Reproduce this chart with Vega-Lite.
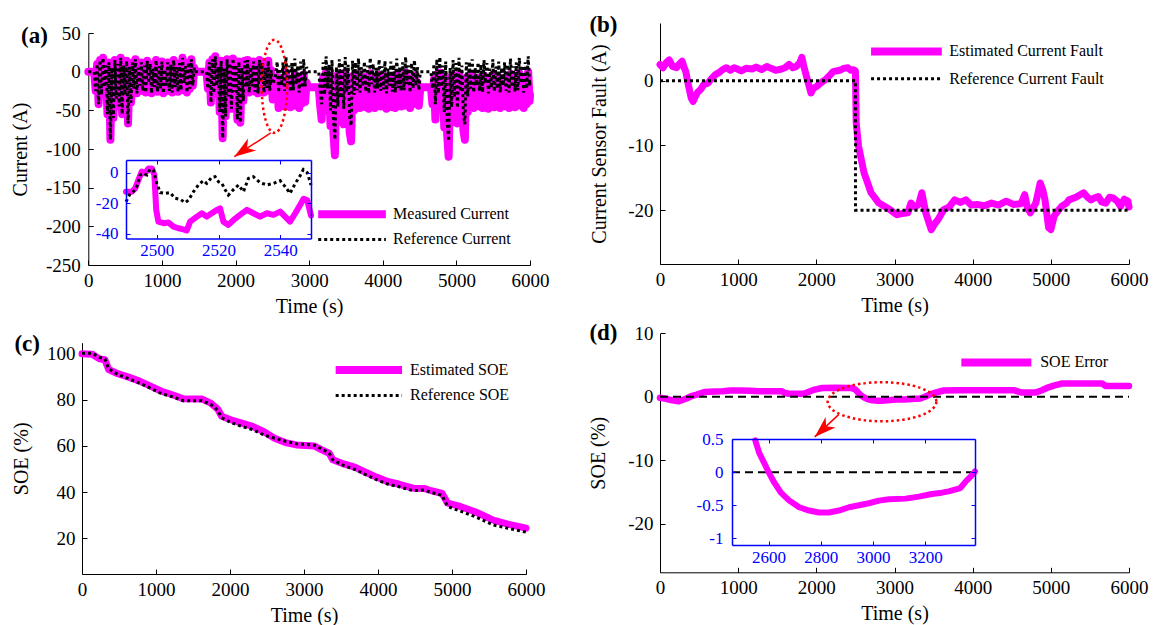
{
"$schema": "https://vega.github.io/schema/vega-lite/v6.json",
"width": 1153, "height": 625, "autosize": {"type": "none"}, "padding": 0, "background": "white",
"config": {
 "view": {"stroke": null},
 "locale": {"number": {"decimal": ".", "thousands": ",", "grouping": [3], "currency": ["$", ""], "minus": "-"}},
 "axis": {"grid": false, "labelFont": "Liberation Serif", "titleFont": "Liberation Serif", "labelFontSize": 19, "titleFontSize": 20, "titleFontWeight": "normal", "labelColor": "black", "titleColor": "black", "domainColor": "black", "tickColor": "black", "tickSize": -5, "domainWidth": 1, "tickWidth": 1, "labelOverlap": false, "labelFlush": false, "labelBound": false}
},
"datasets": {
 "cur": [
  {"t":0,"m":0,"r":0},{"t":80,"m":0,"r":0},
  {"t":100,"m":-25,"r":-25},{"t":120,"m":10,"r":10},{"t":140,"m":-42,"r":-42},{"t":160,"m":15,"r":15},{"t":180,"m":-30,"r":-30},{"t":200,"m":18,"r":18},{"t":220,"m":-20,"r":-20},{"t":240,"m":8,"r":8},{"t":260,"m":-55,"r":-55},{"t":280,"m":12,"r":12},{"t":300,"m":-88,"r":-88},{"t":320,"m":5,"r":5},{"t":340,"m":-60,"r":-60},{"t":360,"m":15,"r":15},{"t":380,"m":-35,"r":-35},{"t":400,"m":10,"r":10},{"t":420,"m":-45,"r":-45},{"t":440,"m":18,"r":18},{"t":460,"m":-55,"r":-55},{"t":480,"m":8,"r":8},{"t":500,"m":-30,"r":-30},{"t":520,"m":14,"r":14},{"t":540,"m":-67,"r":-67},{"t":560,"m":6,"r":6},{"t":580,"m":-40,"r":-40},{"t":600,"m":12,"r":12},{"t":620,"m":-22,"r":-22},{"t":640,"m":16,"r":16},{"t":660,"m":-28,"r":-28},{"t":680,"m":5,"r":5},{"t":700,"m":-18,"r":-18},{"t":720,"m":12,"r":12},{"t":740,"m":-25,"r":-25},{"t":760,"m":8,"r":8},{"t":780,"m":-27,"r":-27},{"t":800,"m":14,"r":14},{"t":820,"m":-15,"r":-15},{"t":840,"m":10,"r":10},{"t":860,"m":-28,"r":-28},{"t":880,"m":4,"r":4},{"t":900,"m":-20,"r":-20},{"t":920,"m":15,"r":15},{"t":940,"m":-26,"r":-26},{"t":960,"m":7,"r":7},{"t":980,"m":-22,"r":-22},{"t":1000,"m":13,"r":13},{"t":1020,"m":-28,"r":-28},{"t":1040,"m":3,"r":3},{"t":1060,"m":-18,"r":-18},{"t":1080,"m":12,"r":12},{"t":1100,"m":-25,"r":-25},{"t":1120,"m":9,"r":9},{"t":1140,"m":-27,"r":-27},{"t":1160,"m":15,"r":15},{"t":1180,"m":-20,"r":-20},{"t":1200,"m":6,"r":6},{"t":1220,"m":-26,"r":-26},{"t":1240,"m":11,"r":11},{"t":1260,"m":-24,"r":-24},{"t":1280,"m":18,"r":18},{"t":1300,"m":-15,"r":-15},{"t":1320,"m":7,"r":7},{"t":1340,"m":-27,"r":-27},{"t":1360,"m":12,"r":12},{"t":1380,"m":-22,"r":-22},{"t":1400,"m":16,"r":16},{"t":1420,"m":-18,"r":-18},{"t":1440,"m":5,"r":5},{"t":1460,"m":0,"r":0},
  {"t":1605,"m":0,"r":0},{"t":1625,"m":-22,"r":-22},{"t":1645,"m":12,"r":12},{"t":1665,"m":-40,"r":-40},{"t":1685,"m":16,"r":16},{"t":1705,"m":-28,"r":-28},{"t":1725,"m":20,"r":20},{"t":1745,"m":-18,"r":-18},{"t":1765,"m":6,"r":6},{"t":1785,"m":-52,"r":-52},{"t":1805,"m":14,"r":14},{"t":1825,"m":-86,"r":-86},{"t":1845,"m":4,"r":4},{"t":1865,"m":-58,"r":-58},{"t":1885,"m":16,"r":16},{"t":1905,"m":-32,"r":-32},{"t":1925,"m":11,"r":11},{"t":1945,"m":-48,"r":-48},{"t":1965,"m":17,"r":17},{"t":1985,"m":-26,"r":-26},{"t":2005,"m":9,"r":9},{"t":2025,"m":-62,"r":-62},{"t":2045,"m":13,"r":13},{"t":2065,"m":-66,"r":-66},{"t":2085,"m":5,"r":5},{"t":2105,"m":-38,"r":-38},{"t":2125,"m":14,"r":14},{"t":2145,"m":-20,"r":-20},{"t":2165,"m":15,"r":15},{"t":2185,"m":-27,"r":-27},{"t":2205,"m":6,"r":6},{"t":2225,"m":-19,"r":-19},{"t":2245,"m":13,"r":13},{"t":2265,"m":-26,"r":-26},{"t":2285,"m":9,"r":9},{"t":2305,"m":-28,"r":-28},{"t":2325,"m":15,"r":15},{"t":2345,"m":-14,"r":-14},{"t":2365,"m":11,"r":11},{"t":2385,"m":-27,"r":-27},{"t":2405,"m":5,"r":5},{"t":2425,"m":-21,"r":-21},{"t":2445,"m":14,"r":14},{"t":2465,"m":-25,"r":-25},{"t":2485,"m":2,"r":2},
  {"t":2505,"m":-36,"r":-16},{"t":2525,"m":-31,"r":-11},{"t":2545,"m":-25,"r":-5},{"t":2565,"m":-7,"r":13},{"t":2585,"m":-47,"r":-27},{"t":2605,"m":-16,"r":4},{"t":2625,"m":-38,"r":-18},{"t":2645,"m":-8,"r":12},{"t":2665,"m":-45,"r":-25},{"t":2685,"m":-1,"r":19},{"t":2705,"m":-35,"r":-15},{"t":2725,"m":-12,"r":8},{"t":2745,"m":-46,"r":-26},{"t":2765,"m":-9,"r":11},{"t":2785,"m":-44,"r":-24},{"t":2805,"m":-3,"r":17},{"t":2825,"m":-36,"r":-16},{"t":2845,"m":-12,"r":8},{"t":2865,"m":-47,"r":-27},{"t":2885,"m":-7,"r":13},{"t":2905,"m":-41,"r":-21},{"t":2925,"m":-4,"r":16},{"t":2945,"m":-39,"r":-19},{"t":2965,"m":-14,"r":6},{"t":2985,"m":-20,"r":0},
  {"t":3130,"m":-20,"r":0},{"t":3150,"m":-44,"r":-24},{"t":3170,"m":-62,"r":-42},{"t":3190,"m":-8,"r":12},{"t":3210,"m":-50,"r":-30},{"t":3230,"m":0,"r":20},{"t":3250,"m":-42,"r":-22},{"t":3270,"m":-11,"r":9},{"t":3290,"m":-70,"r":-50},{"t":3310,"m":-5,"r":15},{"t":3330,"m":-80,"r":-60},{"t":3350,"m":-108,"r":-88},{"t":3370,"m":-14,"r":6},{"t":3390,"m":-65,"r":-45},{"t":3410,"m":-4,"r":16},{"t":3430,"m":-54,"r":-34},{"t":3450,"m":-8,"r":12},{"t":3470,"m":-68,"r":-48},{"t":3490,"m":-1,"r":19},{"t":3510,"m":-46,"r":-26},{"t":3530,"m":-11,"r":9},{"t":3550,"m":-78,"r":-58},{"t":3570,"m":-90,"r":-70},{"t":3590,"m":-6,"r":14},{"t":3610,"m":-50,"r":-30},{"t":3630,"m":-8,"r":12},{"t":3650,"m":-44,"r":-24},{"t":3670,"m":-3,"r":17},{"t":3690,"m":-47,"r":-27},{"t":3710,"m":-14,"r":6},{"t":3730,"m":-39,"r":-19},{"t":3750,"m":-7,"r":13},{"t":3770,"m":-46,"r":-26},{"t":3790,"m":-12,"r":8},{"t":3810,"m":-48,"r":-28},{"t":3830,"m":-2,"r":18},{"t":3850,"m":-36,"r":-16},{"t":3870,"m":-10,"r":10},{"t":3890,"m":-47,"r":-27},{"t":3910,"m":-15,"r":5},{"t":3930,"m":-42,"r":-22},{"t":3950,"m":-4,"r":16},{"t":3970,"m":-45,"r":-25},{"t":3990,"m":-13,"r":7},{"t":4010,"m":-43,"r":-23},{"t":4030,"m":-6,"r":14},{"t":4050,"m":-48,"r":-28},{"t":4070,"m":-16,"r":4},{"t":4090,"m":-38,"r":-18},{"t":4110,"m":-7,"r":13},{"t":4130,"m":-46,"r":-26},{"t":4150,"m":-11,"r":9},{"t":4170,"m":-47,"r":-27},{"t":4190,"m":-3,"r":17},{"t":4210,"m":-41,"r":-21},{"t":4230,"m":-14,"r":6},{"t":4250,"m":-45,"r":-25},{"t":4270,"m":-8,"r":12},{"t":4290,"m":-44,"r":-24},{"t":4310,"m":-1,"r":19},{"t":4330,"m":-36,"r":-16},{"t":4350,"m":-12,"r":8},{"t":4370,"m":-47,"r":-27},{"t":4390,"m":-9,"r":11},{"t":4410,"m":-42,"r":-22},{"t":4430,"m":-5,"r":15},{"t":4450,"m":-38,"r":-18},{"t":4470,"m":-14,"r":6},{"t":4490,"m":-44,"r":-24},{"t":4510,"m":-20,"r":0},
  {"t":4655,"m":-20,"r":0},{"t":4675,"m":-42,"r":-22},{"t":4695,"m":-10,"r":10},{"t":4715,"m":-62,"r":-42},{"t":4735,"m":-4,"r":16},{"t":4755,"m":-48,"r":-28},{"t":4775,"m":-1,"r":19},{"t":4795,"m":-40,"r":-20},{"t":4815,"m":-12,"r":8},{"t":4835,"m":-72,"r":-52},{"t":4855,"m":-7,"r":13},{"t":4875,"m":-82,"r":-62},{"t":4895,"m":-110,"r":-90},{"t":4915,"m":-15,"r":5},{"t":4935,"m":-66,"r":-46},{"t":4955,"m":-5,"r":15},{"t":4975,"m":-53,"r":-33},{"t":4995,"m":-9,"r":11},{"t":5015,"m":-67,"r":-47},{"t":5035,"m":-2,"r":18},{"t":5055,"m":-46,"r":-26},{"t":5075,"m":-12,"r":8},{"t":5095,"m":-75,"r":-55},{"t":5115,"m":-88,"r":-68},{"t":5135,"m":-8,"r":12},{"t":5155,"m":-52,"r":-32},{"t":5175,"m":-7,"r":13},{"t":5195,"m":-42,"r":-22},{"t":5215,"m":-4,"r":16},{"t":5235,"m":-47,"r":-27},{"t":5255,"m":-15,"r":5},{"t":5275,"m":-38,"r":-18},{"t":5295,"m":-8,"r":12},{"t":5315,"m":-45,"r":-25},{"t":5335,"m":-11,"r":9},{"t":5355,"m":-47,"r":-27},{"t":5375,"m":-5,"r":15},{"t":5395,"m":-35,"r":-15},{"t":5415,"m":-9,"r":11},{"t":5435,"m":-48,"r":-28},{"t":5455,"m":-16,"r":4},{"t":5475,"m":-41,"r":-21},{"t":5495,"m":-4,"r":16},{"t":5515,"m":-46,"r":-26},{"t":5535,"m":-13,"r":7},{"t":5555,"m":-42,"r":-22},{"t":5575,"m":-7,"r":13},{"t":5595,"m":-47,"r":-27},{"t":5615,"m":-15,"r":5},{"t":5635,"m":-38,"r":-18},{"t":5655,"m":-8,"r":12},{"t":5675,"m":-45,"r":-25},{"t":5695,"m":-11,"r":9},{"t":5715,"m":-47,"r":-27},{"t":5735,"m":-3,"r":17},{"t":5755,"m":-40,"r":-20},{"t":5775,"m":-13,"r":7},{"t":5795,"m":-46,"r":-26},{"t":5815,"m":-8,"r":12},{"t":5835,"m":-44,"r":-24},{"t":5855,"m":-2,"r":18},{"t":5875,"m":-35,"r":-15},{"t":5895,"m":-12,"r":8},{"t":5915,"m":-47,"r":-27},{"t":5935,"m":-8,"r":12},{"t":5955,"m":-42,"r":-22},{"t":5975,"m":0,"r":20},{"t":5995,"m":-38,"r":-18},{"t":6000,"m":-30,"r":-10}
 ],
 "curz_m": [
  {"t":2490,"v":-12.4},{"t":2491.9,"v":-12.4},{"t":2493,"v":-10.2},{"t":2494,"v":-4.8},{"t":2495.1,"v":0.7},{"t":2496.2,"v":-0.4},{"t":2497.3,"v":2.8},{"t":2498.4,"v":2.8},{"t":2499.2,"v":-1.5},{"t":2499.8,"v":-24.3},{"t":2500.5,"v":-32},{"t":2502.2,"v":-33},{"t":2503.8,"v":-32.6},{"t":2505.4,"v":-35.2},{"t":2507,"v":-36.3},{"t":2508.6,"v":-37},{"t":2509.7,"v":-37.8},{"t":2510.8,"v":-32},{"t":2513,"v":-28.7},{"t":2514.6,"v":-26.5},{"t":2516.2,"v":-28.7},{"t":2517.8,"v":-26.5},{"t":2519.5,"v":-24.3},{"t":2520.5,"v":-23.3},{"t":2521.6,"v":-32},{"t":2523.2,"v":-34.1},{"t":2524.9,"v":-30.9},{"t":2527,"v":-27.6},{"t":2529.2,"v":-24.3},{"t":2531.3,"v":-26.5},{"t":2533.5,"v":-28.7},{"t":2535.7,"v":-26.5},{"t":2537.8,"v":-27.6},{"t":2540,"v":-25.4},{"t":2541.6,"v":-28.7},{"t":2543.2,"v":-32},{"t":2544.9,"v":-26.5},{"t":2546.5,"v":-21},{"t":2547.6,"v":-17},{"t":2548.8,"v":-18},{"t":2550,"v":-28}
 ],
 "curz_r": [
  {"t":2490,"v":-19},{"t":2491.4,"v":-13.5},{"t":2492.4,"v":-12.4},{"t":2493.5,"v":-9.1},{"t":2494.6,"v":-1.5},{"t":2495.7,"v":-0.4},{"t":2496.8,"v":-1.5},{"t":2497.8,"v":2.2},{"t":2498.9,"v":1.7},{"t":2500,"v":-7},{"t":2501.1,"v":-13},{"t":2502.7,"v":-13.5},{"t":2504.3,"v":-13},{"t":2505.9,"v":-16.7},{"t":2507.6,"v":-17.4},{"t":2509.2,"v":-19.6},{"t":2510.3,"v":-17.8},{"t":2511.9,"v":-12.4},{"t":2513.5,"v":-8},{"t":2515.1,"v":-5.2},{"t":2516.2,"v":-7},{"t":2517.8,"v":-3},{"t":2518.9,"v":-2.6},{"t":2520,"v":-5.9},{"t":2521.1,"v":-7},{"t":2522.2,"v":-11.3},{"t":2523.2,"v":-14.6},{"t":2524.9,"v":-10.9},{"t":2526.5,"v":-8},{"t":2528.1,"v":-12.4},{"t":2529.7,"v":-3.7},{"t":2531.3,"v":-2.6},{"t":2533.5,"v":-6.5},{"t":2535.7,"v":-8},{"t":2537.8,"v":-7},{"t":2540,"v":-5.2},{"t":2541.6,"v":-9.1},{"t":2543.2,"v":-13.5},{"t":2544.9,"v":-7},{"t":2546.3,"v":-2.6},{"t":2547.5,"v":2},{"t":2548.8,"v":0},{"t":2550,"v":-8}
 ],
 "fault": [
  {"t":0,"e":2.5},{"t":40,"e":2.0},{"t":80,"e":2.8},{"t":118,"e":3.2},{"t":160,"e":2.2},{"t":212,"e":2.0},{"t":250,"e":2.6},{"t":283,"e":3.0},{"t":310,"e":2.0},{"t":330,"e":1.4},{"t":365,"e":-0.8},{"t":400,"e":-2.7},{"t":424,"e":-3.2},{"t":450,"e":-2.5},{"t":480,"e":-1.8},{"t":518,"e":-1.4},{"t":560,"e":-0.6},{"t":613,"e":-0.4},{"t":650,"e":0.2},{"t":707,"e":0.9},{"t":760,"e":1.3},{"t":801,"e":1.7},{"t":850,"e":2.0},{"t":900,"e":1.6},{"t":950,"e":2.0},{"t":990,"e":1.8},{"t":1040,"e":1.5},{"t":1100,"e":1.9},{"t":1178,"e":1.8},{"t":1230,"e":2.1},{"t":1300,"e":1.7},{"t":1367,"e":2.2},{"t":1420,"e":1.9},{"t":1480,"e":1.6},{"t":1555,"e":1.8},{"t":1600,"e":2.0},{"t":1650,"e":2.5},{"t":1700,"e":2.0},{"t":1744,"e":2.2},{"t":1790,"e":2.8},{"t":1815,"e":3.6},{"t":1840,"e":2.2},{"t":1862,"e":1.2},{"t":1900,"e":-0.5},{"t":1932,"e":-1.9},{"t":1960,"e":-1.2},{"t":2003,"e":-0.9},{"t":2060,"e":-0.3},{"t":2121,"e":0.2},{"t":2170,"e":0.8},{"t":2215,"e":1.4},{"t":2300,"e":1.6},{"t":2350,"e":1.9},{"t":2404,"e":2.0},{"t":2440,"e":1.6},{"t":2474,"e":1.7},{"t":2500,"e":1.5},{"t":2510,"e":-6.5},{"t":2540,"e":-10.1},{"t":2610,"e":-14.2},{"t":2700,"e":-17.3},{"t":2800,"e":-18.9},{"t":2940,"e":-19.9},{"t":3030,"e":-20.7},{"t":3100,"e":-20.5},{"t":3170,"e":-20.4},{"t":3210,"e":-18.9},{"t":3260,"e":-19.5},{"t":3310,"e":-19.1},{"t":3350,"e":-17.3},{"t":3400,"e":-20.4},{"t":3470,"e":-23.0},{"t":3520,"e":-22.0},{"t":3560,"e":-21.4},{"t":3630,"e":-19.9},{"t":3700,"e":-19.5},{"t":3770,"e":-18.4},{"t":3840,"e":-18.8},{"t":3912,"e":-18.4},{"t":3980,"e":-19.2},{"t":4053,"e":-19.1},{"t":4150,"e":-19.3},{"t":4242,"e":-18.9},{"t":4330,"e":-19.2},{"t":4430,"e":-18.6},{"t":4520,"e":-19.1},{"t":4619,"e":-19.0},{"t":4666,"e":-17.6},{"t":4700,"e":-19.6},{"t":4737,"e":-20.4},{"t":4808,"e":-18.9},{"t":4864,"e":-15.8},{"t":4900,"e":-17.0},{"t":4925,"e":-18.4},{"t":4972,"e":-22.7},{"t":5000,"e":-23.0},{"t":5043,"e":-20.9},{"t":5090,"e":-20.1},{"t":5137,"e":-19.4},{"t":5200,"e":-18.9},{"t":5232,"e":-18.4},{"t":5320,"e":-18.0},{"t":5420,"e":-17.3},{"t":5470,"e":-18.0},{"t":5514,"e":-18.4},{"t":5560,"e":-18.1},{"t":5609,"e":-17.9},{"t":5650,"e":-18.7},{"t":5703,"e":-18.9},{"t":5750,"e":-18.0},{"t":5797,"e":-18.1},{"t":5850,"e":-18.6},{"t":5892,"e":-19.4},{"t":5940,"e":-18.3},{"t":5986,"e":-18.6},{"t":6000,"e":-19.5}
 ],
 "fault_ref": [{"t":0,"f":0},{"t":2500,"f":0},{"t":2501,"f":-20},{"t":6000,"f":-20}],
 "soe": [
  {"t":0,"est":99.8,"ref":100},{"t":138,"est":99.6,"ref":100},{"t":236,"est":97.6,"ref":98.3},{"t":310,"est":97.2,"ref":97.6},{"t":360,"est":93.0,"ref":93.3},{"t":483,"est":91.2,"ref":90.9},{"t":631,"est":89.7,"ref":89.0},{"t":778,"est":88.0,"ref":87.1},{"t":926,"est":85.8,"ref":84.9},{"t":1074,"est":83.6,"ref":82.6},{"t":1222,"est":82.1,"ref":81.2},{"t":1369,"est":80.4,"ref":79.5},{"t":1616,"est":80.3,"ref":79.5},{"t":1739,"est":78.5,"ref":78.0},{"t":1837,"est":75.8,"ref":75.3},{"t":1887,"est":72.8,"ref":72.2},{"t":2010,"est":71.3,"ref":70.1},{"t":2158,"est":69.8,"ref":68.4},{"t":2305,"est":68.4,"ref":67.0},{"t":2453,"est":66.2,"ref":64.8},{"t":2601,"est":63.3,"ref":63.3},{"t":2749,"est":61.4,"ref":62.0},{"t":2897,"est":60.4,"ref":60.9},{"t":3143,"est":59.9,"ref":60.3},{"t":3241,"est":58.3,"ref":58.6},{"t":3340,"est":56.8,"ref":56.9},{"t":3389,"est":54.0,"ref":54.0},{"t":3537,"est":52.2,"ref":51.5},{"t":3685,"est":50.8,"ref":49.8},{"t":3832,"est":48.6,"ref":47.6},{"t":3980,"est":46.5,"ref":45.4},{"t":4128,"est":44.6,"ref":43.5},{"t":4276,"est":43.5,"ref":42.4},{"t":4473,"est":41.7,"ref":40.6},{"t":4621,"est":41.6,"ref":40.9},{"t":4719,"est":40.6,"ref":39.9},{"t":4867,"est":39.4,"ref":38.6},{"t":4941,"est":35.2,"ref":33.8},{"t":5113,"est":33.8,"ref":31.8},{"t":5310,"est":31.5,"ref":29.4},{"t":5409,"est":30.1,"ref":28.0},{"t":5557,"est":27.9,"ref":25.8},{"t":5754,"est":26.2,"ref":24.4},{"t":6000,"est":24.4,"ref":22.7}
 ],
 "err": [
  {"t":0,"e":-0.15},{"t":80,"e":-0.3},{"t":141,"e":-0.5},{"t":236,"e":-0.7},{"t":330,"e":-0.3},{"t":400,"e":0.1},{"t":471,"e":0.35},{"t":566,"e":0.75},{"t":700,"e":0.85},{"t":801,"e":0.9},{"t":900,"e":1.0},{"t":1037,"e":1.0},{"t":1150,"e":0.95},{"t":1272,"e":0.9},{"t":1400,"e":0.9},{"t":1555,"e":0.9},{"t":1600,"e":0.6},{"t":1650,"e":0.5},{"t":1838,"e":0.5},{"t":1979,"e":1.15},{"t":2074,"e":1.4},{"t":2250,"e":1.45},{"t":2451,"e":1.4},{"t":2498,"e":1.15},{"t":2549,"e":0.48},{"t":2564,"e":0.29},{"t":2583,"e":0.14},{"t":2600,"e":0},{"t":2622,"e":-0.16},{"t":2647,"e":-0.31},{"t":2679,"e":-0.43},{"t":2717,"e":-0.53},{"t":2755,"e":-0.58},{"t":2793,"e":-0.61},{"t":2831,"e":-0.61},{"t":2869,"e":-0.58},{"t":2908,"e":-0.53},{"t":2946,"e":-0.5},{"t":2984,"e":-0.47},{"t":3022,"e":-0.43},{"t":3060,"e":-0.41},{"t":3124,"e":-0.4},{"t":3175,"e":-0.37},{"t":3225,"e":-0.33},{"t":3263,"e":-0.31},{"t":3289,"e":-0.29},{"t":3334,"e":-0.24},{"t":3355,"e":-0.14},{"t":3375,"e":-0.06},{"t":3390,"e":0.01},{"t":3450,"e":0.35},{"t":3535,"e":0.7},{"t":3629,"e":1.0},{"t":3800,"e":1.05},{"t":4100,"e":1.05},{"t":4524,"e":1.05},{"t":4619,"e":0.7},{"t":4808,"e":0.7},{"t":4880,"e":1.0},{"t":4949,"e":1.4},{"t":5050,"e":1.8},{"t":5137,"e":2.1},{"t":5655,"e":2.1},{"t":5703,"e":1.7},{"t":6000,"e":1.7}
 ]
},
"resolve": {"scale": {"x": "independent", "y": "independent"}, "axis": {"x": "independent", "y": "independent"}},
"layer": [
 {"data": {"name": "cur"}, "mark": {"type": "line", "color": "#ff00ff", "strokeWidth": 8, "strokeJoin": "round", "strokeCap": "round"},
  "encoding": {
   "x": {"field": "t", "type": "quantitative", "scale": {"domain": [0, 6000], "range": [88.3, 530], "nice": false, "zero": false}, "axis": {"orient": "bottom", "offset": -360, "values": [0,1000,2000,3000,4000,5000,6000], "format": "~r", "title": "Time (s)", "labelPadding": 11, "titlePadding": 6}},
   "y": {"field": "m", "type": "quantitative", "scale": {"domain": [-250, 50], "range": [265, 33], "nice": false, "zero": false}, "axis": {"orient": "left", "offset": -88.3, "values": [-250,-200,-150,-100,-50,0,50], "format": "~r", "title": "Current (A)", "labelPadding": 13, "titlePadding": 15}}}},
 {"data": {"name": "cur"}, "mark": {"type": "line", "color": "black", "strokeWidth": 3, "strokeDash": [3, 3]},
  "encoding": {
   "x": {"field": "t", "type": "quantitative", "scale": {"domain": [0, 6000], "range": [88.3, 530], "nice": false, "zero": false}, "axis": null},
   "y": {"field": "r", "type": "quantitative", "scale": {"domain": [-250, 50], "range": [265, 33], "nice": false, "zero": false}, "axis": null}}},
 {"data": {"values": [{}]}, "mark": {"type": "point", "shape": "M0.274,0 C0.274,0.5523 0.1513,1 0,1 C-0.1513,1 -0.274,0.5523 -0.274,0 C-0.274,-0.5523 -0.1513,-1 0,-1 C0.1513,-1 0.274,-0.5523 0.274,0 Z", "size": 8649, "filled": false, "stroke": "#ff0000", "strokeWidth": 2.5, "strokeDash": [2.5, 3], "opacity": 1},
  "encoding": {
   "x": {"datum": 2528, "type": "quantitative", "scale": {"domain": [0, 6000], "range": [88.3, 530], "nice": false, "zero": false}, "axis": null},
   "y": {"datum": -19, "type": "quantitative", "scale": {"domain": [-250, 50], "range": [265, 33], "nice": false, "zero": false}, "axis": null}}},
 {"data": {"values": [{}]}, "mark": {"type": "rule", "color": "#ff0000", "strokeWidth": 1.5},
  "encoding": {
   "x": {"datum": 2479, "type": "quantitative", "scale": {"domain": [0, 6000], "range": [88.3, 530], "nice": false, "zero": false}, "axis": null},
   "y": {"datum": -79, "type": "quantitative", "scale": {"domain": [-250, 50], "range": [265, 33], "nice": false, "zero": false}, "axis": null},
   "x2": {"datum": 1983}, "y2": {"datum": -110}}},
 {"data": {"values": [{}]}, "mark": {"type": "point", "shape": "M0,0 L0.6,1.8 L0,1.3 L-0.6,1.8 Z", "size": 576, "filled": true, "color": "#ff0000", "angle": 235.5, "opacity": 1},
  "encoding": {
   "x": {"datum": 1983, "type": "quantitative", "scale": {"domain": [0, 6000], "range": [88.3, 530], "nice": false, "zero": false}, "axis": null},
   "y": {"datum": -110, "type": "quantitative", "scale": {"domain": [-250, 50], "range": [265, 33], "nice": false, "zero": false}, "axis": null}}},
 {"data": {"values": [{}]}, "mark": {"type": "rect", "color": "white"},
  "encoding": {
   "x": {"datum": 2490, "type": "quantitative", "scale": {"domain": [2490, 2550], "range": [126, 311], "nice": false, "zero": false}, "axis": {"orient": "top", "offset": -160, "values": [2500,2520,2540], "labels": false, "title": null, "domainColor": "#0000ff", "tickColor": "#0000ff", "tickSize": -4, "domainWidth": 1.5, "zindex": 1}},
   "x2": {"datum": 2550},
   "y": {"datum": -43, "type": "quantitative", "scale": {"domain": [-43, 8.3], "range": [238.5, 160], "nice": false, "zero": false}, "axis": {"orient": "right", "offset": -842, "values": [-40,-20,0], "labels": false, "title": null, "domainColor": "#0000ff", "tickColor": "#0000ff", "tickSize": -4, "domainWidth": 1.5, "zindex": 1}},
   "y2": {"datum": 8.3}}},
 {"data": {"name": "curz_m"}, "mark": {"type": "line", "color": "#ff00ff", "strokeWidth": 6, "strokeJoin": "round", "strokeCap": "round"},
  "encoding": {
   "x": {"field": "t", "type": "quantitative", "scale": {"domain": [2490, 2550], "range": [126, 311], "nice": false, "zero": false}, "axis": {"orient": "bottom", "offset": -386.5, "values": [2500,2520,2540], "format": "~r", "title": null, "labelColor": "#0000ff", "domainColor": "#0000ff", "tickColor": "#0000ff", "labelFontSize": 17, "tickSize": -4, "labelPadding": 8, "domainWidth": 1.5, "zindex": 1}},
   "y": {"field": "v", "type": "quantitative", "scale": {"domain": [-43, 8.3], "range": [238.5, 160], "nice": false, "zero": false}, "axis": {"orient": "left", "offset": -126, "values": [-40,-20,0], "format": "~r", "title": null, "labelColor": "#0000ff", "domainColor": "#0000ff", "tickColor": "#0000ff", "labelFontSize": 17, "tickSize": -4, "labelPadding": 12, "domainWidth": 1.5, "zindex": 1}}}},
 {"data": {"name": "curz_r"}, "mark": {"type": "line", "color": "black", "strokeWidth": 3, "strokeDash": [3, 3]},
  "encoding": {
   "x": {"field": "t", "type": "quantitative", "scale": {"domain": [2490, 2550], "range": [126, 311], "nice": false, "zero": false}, "axis": null},
   "y": {"field": "v", "type": "quantitative", "scale": {"domain": [-43, 8.3], "range": [238.5, 160], "nice": false, "zero": false}, "axis": null}}},
 {"data": {"values": [{}]}, "mark": {"type": "rule", "color": "#ff00ff", "strokeWidth": 8},
  "encoding": {
   "x": {"datum": 3123, "type": "quantitative", "scale": {"domain": [0, 6000], "range": [88.3, 530], "nice": false, "zero": false}, "axis": null},
   "x2": {"datum": 4042},
   "y": {"datum": -184.5, "type": "quantitative", "scale": {"domain": [-250, 50], "range": [265, 33], "nice": false, "zero": false}, "axis": null}}},
 {"data": {"values": [{}]}, "mark": {"type": "rule", "color": "black", "strokeWidth": 3, "strokeDash": [3, 3]},
  "encoding": {
   "x": {"datum": 3123, "type": "quantitative", "scale": {"domain": [0, 6000], "range": [88.3, 530], "nice": false, "zero": false}, "axis": null},
   "x2": {"datum": 4042},
   "y": {"datum": -217, "type": "quantitative", "scale": {"domain": [-250, 50], "range": [265, 33], "nice": false, "zero": false}, "axis": null}}},
 {"data": {"values": [{}]}, "mark": {"type": "text", "text": "Measured Current", "align": "left", "baseline": "middle", "font": "Liberation Serif", "fontSize": 16, "color": "black"},
  "encoding": {
   "x": {"datum": 4140, "type": "quantitative", "scale": {"domain": [0, 6000], "range": [88.3, 530], "nice": false, "zero": false}, "axis": null},
   "y": {"datum": -184.5, "type": "quantitative", "scale": {"domain": [-250, 50], "range": [265, 33], "nice": false, "zero": false}, "axis": null}}},
 {"data": {"values": [{}]}, "mark": {"type": "text", "text": "Reference Current", "align": "left", "baseline": "middle", "font": "Liberation Serif", "fontSize": 16, "color": "black"},
  "encoding": {
   "x": {"datum": 4140, "type": "quantitative", "scale": {"domain": [0, 6000], "range": [88.3, 530], "nice": false, "zero": false}, "axis": null},
   "y": {"datum": -217, "type": "quantitative", "scale": {"domain": [-250, 50], "range": [265, 33], "nice": false, "zero": false}, "axis": null}}},
 {"data": {"values": [{}]}, "mark": {"type": "text", "text": "(a)", "align": "center", "baseline": "middle", "font": "Liberation Serif", "fontSize": 23, "fontWeight": "bold", "color": "black"},
  "encoding": {
   "x": {"datum": -731, "type": "quantitative", "scale": {"domain": [0, 6000], "range": [88.3, 530], "nice": false, "zero": false}, "axis": null},
   "y": {"datum": 46, "type": "quantitative", "scale": {"domain": [-250, 50], "range": [265, 33], "nice": false, "zero": false}, "axis": null}}},

 {"data": {"name": "fault"}, "mark": {"type": "line", "color": "#ff00ff", "strokeWidth": 7, "strokeJoin": "round", "strokeCap": "round"},
  "encoding": {
   "x": {"field": "t", "type": "quantitative", "scale": {"domain": [0, 6000], "range": [660, 1129], "nice": false, "zero": false}, "axis": {"orient": "bottom", "offset": -361, "values": [0,1000,2000,3000,4000,5000,6000], "format": "~r", "title": "Time (s)", "labelPadding": 11, "titlePadding": 6}},
   "y": {"field": "e", "type": "quantitative", "scale": {"domain": [-28.3, 8.9], "range": [264, 23], "nice": false, "zero": false}, "axis": {"orient": "left", "offset": -660, "values": [-20,-10,0], "format": "~r", "title": "Current Sensor Fault (A)", "labelPadding": 12, "titlePadding": 18}}}},
 {"data": {"name": "fault_ref"}, "mark": {"type": "line", "color": "black", "strokeWidth": 3, "strokeDash": [3, 3]},
  "encoding": {
   "x": {"field": "t", "type": "quantitative", "scale": {"domain": [0, 6000], "range": [660, 1129], "nice": false, "zero": false}, "axis": null},
   "y": {"field": "f", "type": "quantitative", "scale": {"domain": [-28.3, 8.9], "range": [264, 23], "nice": false, "zero": false}, "axis": null}}},
 {"data": {"values": [{}]}, "mark": {"type": "rule", "color": "#ff00ff", "strokeWidth": 8},
  "encoding": {
   "x": {"datum": 2700, "type": "quantitative", "scale": {"domain": [0, 6000], "range": [660, 1129], "nice": false, "zero": false}, "axis": null},
   "x2": {"datum": 3605},
   "y": {"datum": 4.52, "type": "quantitative", "scale": {"domain": [-28.3, 8.9], "range": [264, 23], "nice": false, "zero": false}, "axis": null}}},
 {"data": {"values": [{}]}, "mark": {"type": "rule", "color": "black", "strokeWidth": 3, "strokeDash": [3, 3]},
  "encoding": {
   "x": {"datum": 2700, "type": "quantitative", "scale": {"domain": [0, 6000], "range": [660, 1129], "nice": false, "zero": false}, "axis": null},
   "x2": {"datum": 3605},
   "y": {"datum": 0.31, "type": "quantitative", "scale": {"domain": [-28.3, 8.9], "range": [264, 23], "nice": false, "zero": false}, "axis": null}}},
 {"data": {"values": [{}]}, "mark": {"type": "text", "text": "Estimated Current Fault", "align": "left", "baseline": "middle", "font": "Liberation Serif", "fontSize": 16, "color": "black"},
  "encoding": {
   "x": {"datum": 3700, "type": "quantitative", "scale": {"domain": [0, 6000], "range": [660, 1129], "nice": false, "zero": false}, "axis": null},
   "y": {"datum": 4.52, "type": "quantitative", "scale": {"domain": [-28.3, 8.9], "range": [264, 23], "nice": false, "zero": false}, "axis": null}}},
 {"data": {"values": [{}]}, "mark": {"type": "text", "text": "Reference Current Fault", "align": "left", "baseline": "middle", "font": "Liberation Serif", "fontSize": 16, "color": "black"},
  "encoding": {
   "x": {"datum": 3700, "type": "quantitative", "scale": {"domain": [0, 6000], "range": [660, 1129], "nice": false, "zero": false}, "axis": null},
   "y": {"datum": 0.31, "type": "quantitative", "scale": {"domain": [-28.3, 8.9], "range": [264, 23], "nice": false, "zero": false}, "axis": null}}},
 {"data": {"values": [{}]}, "mark": {"type": "text", "text": "(b)", "align": "center", "baseline": "middle", "font": "Liberation Serif", "fontSize": 23, "fontWeight": "bold", "color": "black"},
  "encoding": {
   "x": {"datum": -723, "type": "quantitative", "scale": {"domain": [0, 6000], "range": [660, 1129], "nice": false, "zero": false}, "axis": null},
   "y": {"datum": 8.6, "type": "quantitative", "scale": {"domain": [-28.3, 8.9], "range": [264, 23], "nice": false, "zero": false}, "axis": null}}},

 {"data": {"name": "soe"}, "mark": {"type": "line", "color": "#ff00ff", "strokeWidth": 7, "strokeJoin": "round", "strokeCap": "round"},
  "encoding": {
   "x": {"field": "t", "type": "quantitative", "scale": {"domain": [0, 6000], "range": [82, 526], "nice": false, "zero": false}, "axis": {"orient": "bottom", "offset": -51, "values": [0,1000,2000,3000,4000,5000,6000], "format": "~r", "title": "Time (s)", "labelPadding": 11, "titlePadding": 6}},
   "y": {"field": "est", "type": "quantitative", "scale": {"domain": [4.6, 104.6], "range": [574, 342.7], "nice": false, "zero": false}, "axis": {"orient": "left", "offset": -82, "values": [20,40,60,80,100], "format": "~r", "title": "SOE (%)", "labelPadding": 12, "titlePadding": 15}}}},
 {"data": {"name": "soe"}, "mark": {"type": "line", "color": "black", "strokeWidth": 3, "strokeDash": [3, 3]},
  "encoding": {
   "x": {"field": "t", "type": "quantitative", "scale": {"domain": [0, 6000], "range": [82, 526], "nice": false, "zero": false}, "axis": null},
   "y": {"field": "ref", "type": "quantitative", "scale": {"domain": [4.6, 104.6], "range": [574, 342.7], "nice": false, "zero": false}, "axis": null}}},
 {"data": {"values": [{}]}, "mark": {"type": "rule", "color": "#ff00ff", "strokeWidth": 8},
  "encoding": {
   "x": {"datum": 3428, "type": "quantitative", "scale": {"domain": [0, 6000], "range": [82, 526], "nice": false, "zero": false}, "axis": null},
   "x2": {"datum": 4325},
   "y": {"datum": 92.8, "type": "quantitative", "scale": {"domain": [4.6, 104.6], "range": [574, 342.7], "nice": false, "zero": false}, "axis": null}}},
 {"data": {"values": [{}]}, "mark": {"type": "rule", "color": "black", "strokeWidth": 3, "strokeDash": [3, 3]},
  "encoding": {
   "x": {"datum": 3428, "type": "quantitative", "scale": {"domain": [0, 6000], "range": [82, 526], "nice": false, "zero": false}, "axis": null},
   "x2": {"datum": 4325},
   "y": {"datum": 81.8, "type": "quantitative", "scale": {"domain": [4.6, 104.6], "range": [574, 342.7], "nice": false, "zero": false}, "axis": null}}},
 {"data": {"values": [{}]}, "mark": {"type": "text", "text": "Estimated SOE", "align": "left", "baseline": "middle", "font": "Liberation Serif", "fontSize": 16, "color": "black"},
  "encoding": {
   "x": {"datum": 4433, "type": "quantitative", "scale": {"domain": [0, 6000], "range": [82, 526], "nice": false, "zero": false}, "axis": null},
   "y": {"datum": 92.8, "type": "quantitative", "scale": {"domain": [4.6, 104.6], "range": [574, 342.7], "nice": false, "zero": false}, "axis": null}}},
 {"data": {"values": [{}]}, "mark": {"type": "text", "text": "Reference SOE", "align": "left", "baseline": "middle", "font": "Liberation Serif", "fontSize": 16, "color": "black"},
  "encoding": {
   "x": {"datum": 4433, "type": "quantitative", "scale": {"domain": [0, 6000], "range": [82, 526], "nice": false, "zero": false}, "axis": null},
   "y": {"datum": 81.8, "type": "quantitative", "scale": {"domain": [4.6, 104.6], "range": [574, 342.7], "nice": false, "zero": false}, "axis": null}}},
 {"data": {"values": [{}]}, "mark": {"type": "text", "text": "(c)", "align": "center", "baseline": "middle", "font": "Liberation Serif", "fontSize": 23, "fontWeight": "bold", "color": "black"},
  "encoding": {
   "x": {"datum": -741, "type": "quantitative", "scale": {"domain": [0, 6000], "range": [82, 526], "nice": false, "zero": false}, "axis": null},
   "y": {"datum": 104, "type": "quantitative", "scale": {"domain": [4.6, 104.6], "range": [574, 342.7], "nice": false, "zero": false}, "axis": null}}},

 {"data": {"name": "err"}, "mark": {"type": "line", "color": "#ff00ff", "strokeWidth": 6.5, "strokeJoin": "round", "strokeCap": "round"},
  "encoding": {
   "x": {"field": "t", "type": "quantitative", "scale": {"domain": [0, 6000], "range": [660, 1129], "nice": false, "zero": false}, "axis": {"orient": "bottom", "offset": -52.7, "values": [0,1000,2000,3000,4000,5000,6000], "format": "~r", "title": "Time (s)", "labelPadding": 11, "titlePadding": 6}},
   "y": {"field": "e", "type": "quantitative", "scale": {"domain": [-27.6, 10], "range": [572.3, 333.3], "nice": false, "zero": false}, "axis": {"orient": "left", "offset": -660, "values": [-20,-10,0,10], "format": "~r", "title": "SOE (%)", "labelPadding": 12, "titlePadding": 19}}}},
 {"data": {"values": [{}]}, "mark": {"type": "rule", "color": "black", "strokeWidth": 2, "strokeDash": [8, 5]},
  "encoding": {
   "x": {"datum": 0, "type": "quantitative", "scale": {"domain": [0, 6000], "range": [660, 1129], "nice": false, "zero": false}, "axis": null},
   "x2": {"datum": 6000},
   "y": {"datum": 0, "type": "quantitative", "scale": {"domain": [-27.6, 10], "range": [572.3, 333.3], "nice": false, "zero": false}, "axis": null}}},
 {"data": {"values": [{}]}, "mark": {"type": "point", "shape": "M1,0 C1,0.1983 0.5523,0.359 0,0.359 C-0.5523,0.359 -1,0.1983 -1,0 C-1,-0.1983 -0.5523,-0.359 0,-0.359 C0.5523,-0.359 1,-0.1983 1,0 Z", "size": 11816, "filled": false, "stroke": "#ff0000", "strokeWidth": 2.5, "strokeDash": [2.5, 3], "opacity": 1},
  "encoding": {
   "x": {"datum": 2840, "type": "quantitative", "scale": {"domain": [0, 6000], "range": [660, 1129], "nice": false, "zero": false}, "axis": null},
   "y": {"datum": -0.77, "type": "quantitative", "scale": {"domain": [-27.6, 10], "range": [572.3, 333.3], "nice": false, "zero": false}, "axis": null}}},
 {"data": {"values": [{}]}, "mark": {"type": "rule", "color": "#ff0000", "strokeWidth": 1.5},
  "encoding": {
   "x": {"datum": 2286, "type": "quantitative", "scale": {"domain": [0, 6000], "range": [660, 1129], "nice": false, "zero": false}, "axis": null},
   "y": {"datum": -2.79, "type": "quantitative", "scale": {"domain": [-27.6, 10], "range": [572.3, 333.3], "nice": false, "zero": false}, "axis": null},
   "x2": {"datum": 1979}, "y2": {"datum": -6.3}}},
 {"data": {"values": [{}]}, "mark": {"type": "point", "shape": "M0,0 L0.6,1.8 L0,1.3 L-0.6,1.8 Z", "size": 576, "filled": true, "color": "#ff0000", "angle": 227.1, "opacity": 1},
  "encoding": {
   "x": {"datum": 1979, "type": "quantitative", "scale": {"domain": [0, 6000], "range": [660, 1129], "nice": false, "zero": false}, "axis": null},
   "y": {"datum": -6.3, "type": "quantitative", "scale": {"domain": [-27.6, 10], "range": [572.3, 333.3], "nice": false, "zero": false}, "axis": null}}},
 {"data": {"values": [{}]}, "mark": {"type": "rect", "color": "white"},
  "encoding": {
   "x": {"datum": 2460, "type": "quantitative", "scale": {"domain": [2460, 3390], "range": [732, 975], "nice": false, "zero": false}, "axis": {"orient": "top", "offset": -439, "values": [2600,2800,3000,3200], "labels": false, "title": null, "domainColor": "#0000ff", "tickColor": "#0000ff", "tickSize": -4, "domainWidth": 1.5, "zindex": 1}},
   "x2": {"datum": 3390},
   "y": {"datum": -1.1, "type": "quantitative", "scale": {"domain": [-1.1, 0.5], "range": [545, 439], "nice": false, "zero": false}, "axis": {"orient": "right", "offset": -178, "values": [-1,-0.5,0,0.5], "labels": false, "title": null, "domainColor": "#0000ff", "tickColor": "#0000ff", "tickSize": -4, "domainWidth": 1.5, "zindex": 1}},
   "y2": {"datum": 0.5}}},
 {"data": {"values": [{}]}, "mark": {"type": "rule", "color": "black", "strokeWidth": 2, "strokeDash": [8, 5]},
  "encoding": {
   "x": {"datum": 2460, "type": "quantitative", "scale": {"domain": [2460, 3390], "range": [732, 975], "nice": false, "zero": false}, "axis": null},
   "x2": {"datum": 3390},
   "y": {"datum": 0, "type": "quantitative", "scale": {"domain": [-1.1, 0.5], "range": [545, 439], "nice": false, "zero": false}, "axis": null}}},
 {"data": {"name": "err"}, "transform": [{"filter": "datum.t >= 2549 && datum.t <= 3390"}], "mark": {"type": "line", "color": "#ff00ff", "strokeWidth": 6, "strokeJoin": "round", "strokeCap": "round"},
  "encoding": {
   "x": {"field": "t", "type": "quantitative", "scale": {"domain": [2460, 3390], "range": [732, 975], "nice": false, "zero": false}, "axis": {"orient": "bottom", "offset": -80, "values": [2600,2800,3000,3200], "format": "~r", "title": null, "labelColor": "#0000ff", "domainColor": "#0000ff", "tickColor": "#0000ff", "labelFontSize": 17, "tickSize": -4, "labelPadding": 8, "domainWidth": 1.5, "zindex": 1}},
   "y": {"field": "e", "type": "quantitative", "scale": {"domain": [-1.1, 0.5], "range": [545, 439], "nice": false, "zero": false}, "axis": {"orient": "left", "offset": -732, "values": [-1,-0.5,0,0.5], "format": "~r", "title": null, "labelColor": "#0000ff", "domainColor": "#0000ff", "tickColor": "#0000ff", "labelFontSize": 17, "tickSize": -4, "labelPadding": 13, "domainWidth": 1.5, "zindex": 1}}}},
 {"data": {"values": [{}]}, "mark": {"type": "rule", "color": "#ff00ff", "strokeWidth": 8},
  "encoding": {
   "x": {"datum": 3855, "type": "quantitative", "scale": {"domain": [0, 6000], "range": [660, 1129], "nice": false, "zero": false}, "axis": null},
   "x2": {"datum": 4751},
   "y": {"datum": 5.42, "type": "quantitative", "scale": {"domain": [-27.6, 10], "range": [572.3, 333.3], "nice": false, "zero": false}, "axis": null}}},
 {"data": {"values": [{}]}, "mark": {"type": "text", "text": "SOE Error", "align": "left", "baseline": "middle", "font": "Liberation Serif", "fontSize": 16, "color": "black"},
  "encoding": {
   "x": {"datum": 4864, "type": "quantitative", "scale": {"domain": [0, 6000], "range": [660, 1129], "nice": false, "zero": false}, "axis": null},
   "y": {"datum": 5.42, "type": "quantitative", "scale": {"domain": [-27.6, 10], "range": [572.3, 333.3], "nice": false, "zero": false}, "axis": null}}},
 {"data": {"values": [{}]}, "mark": {"type": "text", "text": "(d)", "align": "center", "baseline": "middle", "font": "Liberation Serif", "fontSize": 23, "fontWeight": "bold", "color": "black"},
  "encoding": {
   "x": {"datum": -723, "type": "quantitative", "scale": {"domain": [0, 6000], "range": [660, 1129], "nice": false, "zero": false}, "axis": null},
   "y": {"datum": 10, "type": "quantitative", "scale": {"domain": [-27.6, 10], "range": [572.3, 333.3], "nice": false, "zero": false}, "axis": null}}}
]
}
